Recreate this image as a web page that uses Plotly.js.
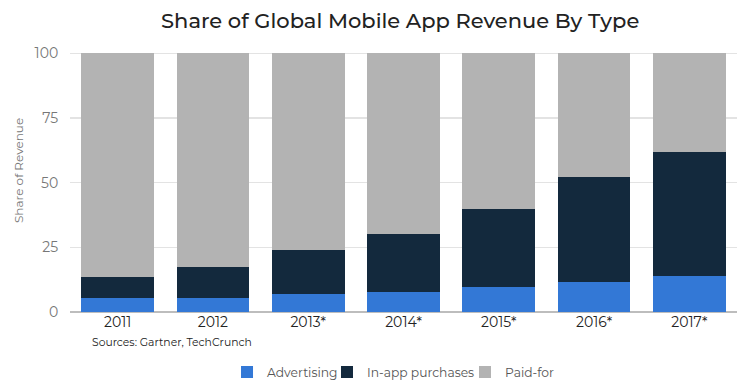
<!DOCTYPE html>
<html><head><meta charset="utf-8">
<script src="https://cdn.plot.ly/plotly-3.0.1.min.js"></script>
<style>html,body{margin:0;padding:0;background:#fff}#chart{width:748px;height:390px}</style>
</head><body><div id="chart"></div>
<script>
const years = ['2011','2012','2013*','2014*','2015*','2016*','2017*'];
const advertising = [5.6,5.6,7.0,7.9,9.8,11.7,14.0];
const inApp = [8.1,11.7,16.9,22.3,30.2,40.6,47.9];
const paidFor = [86.3,82.7,76.1,69.8,60.0,47.7,38.1];
const seriesNames = ['Advertising','In-app purchases','Paid-for'];
const seriesColors = ['#3378d6','#13293d','#b3b3b3'];
const yTicks = [0,25,50,75,100];

const font = 'Montserrat, "Open Sans", "DejaVu Sans", sans-serif';
const legendIds = ['legend','legend2','legend3'];
const legendX = [0.2354, 0.3853, 0.5922];
const data = [advertising, inApp, paidFor].map((v,i)=>({
  type:'bar', x:years, y:v, name:seriesNames[i], legend:legendIds[i], showlegend:true,
  marker:{color:seriesColors[i], line:{width:0}}, hoverinfo:'skip'
}));
const layout = {
  width:748, height:390, barmode:'stack', bargap:0.237, showlegend:true,
  margin:{l:70,r:11,t:52,b:78, autoexpand:false},
  paper_bgcolor:'#fff', plot_bgcolor:'#fff',
  font:{family:font, color:'#666'},
  title:{text:'Share of Global Mobile App Revenue By Type', x:0.535, xanchor:'center', y:0.947, yanchor:'middle', font:{size:21, color:'#222', family:font, weight:500}},
  xaxis:{type:'category', tickfont:{size:14,color:'#222'}, showgrid:false, showline:false, ticks:'', ticklen:0, automargin:false},
  yaxis:{range:[0,100.5], tickvals:yTicks, ticktext:yTicks.map(String), tickfont:{size:14,color:'#777'},
    showgrid:true, gridcolor:'#e3e3e3', gridwidth:1.5, zeroline:true, zerolinecolor:'#bdbdbd', zerolinewidth:1.5,
    ticks:'outside', ticklen:8, tickcolor:'rgba(0,0,0,0)', automargin:false, fixedrange:true},
  annotations:[
    {text:'Sources: Gartner, TechCrunch', xref:'paper', yref:'paper', x:0.03, xanchor:'left', y:-0.118, yanchor:'middle', showarrow:false, font:{size:10.8,color:'#222'}},
    {text:'Share of Revenue', xref:'paper', yref:'paper', x:-0.078, xanchor:'center', y:0.546, yanchor:'middle', textangle:-90, showarrow:false, font:{size:12,color:'#777'}}
  ]
};
legendIds.forEach((id,i)=>{
  layout[id] = {orientation:'h', x:legendX[i], xanchor:'left', yref:'container', y:0.046, yanchor:'middle', font:{size:12.3,color:'#555'}, itemwidth:30, bgcolor:'rgba(0,0,0,0)', visible:true};
});
Plotly.newPlot('chart', data, layout, {staticPlot:true});
</script></body></html>
